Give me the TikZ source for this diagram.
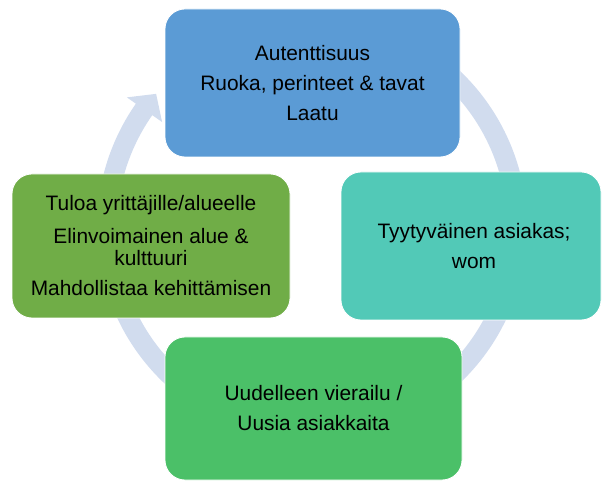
\documentclass[tikz,border=0pt]{standalone}
\usepackage{fontspec}
\setmainfont{Liberation Sans}
\usetikzlibrary{calc}

\definecolor{boxblue}{HTML}{5B9BD5}
\definecolor{boxteal}{HTML}{52C9B7}
\definecolor{boxolive}{HTML}{70AD47}
\definecolor{boxgreen}{HTML}{4BC068}
\definecolor{ringblue}{HTML}{D1DCEE}

\tikzset{
  stage/.style={draw=white, line width=0.8pt, rounded corners=20pt,
    align=center, inner sep=0pt, text=black,
    font=\fontsize{20.9}{30}\selectfont},
}

\begin{document}
\begin{tikzpicture}[x=1pt, y=1pt]
  \useasboundingbox (0,0) rectangle (602,482);

  % circular arrow running clockwise behind the stages
  \coordinate (C) at (312,255);
  \fill[ringblue]
    ($(C)+(70:215)$) arc[start angle=70, end angle=-215, radius=215]
    -- ($(C)+(-215:226)$) -- ($(C)+(-220.5:205)$) -- ($(C)+(-215:183)$)
    -- ($(C)+(-215:195)$) arc[start angle=-215, end angle=70, radius=195]
    -- cycle;

  % stages of the cycle
  \node[stage, fill=boxblue, minimum width=295pt, minimum height=148pt]
    (quality) at (312.5,399)
    {Autenttisuus\\Ruoka, perinteet \& tavat\\Laatu};

  \node[stage, fill=boxteal, minimum width=260pt, minimum height=148pt]
    (customer) at (471,236) {};
  \node[font=\fontsize{20.9}{30}\selectfont, align=center, inner sep=0pt]
    (customertext) at (474,236) {Tyytyväinen asiakas;\\wom};

  \node[stage, fill=boxgreen, minimum width=297pt, minimum height=143pt]
    (revisit) at (313.5,73.5)
    {Uudelleen vierailu /\\Uusia asiakkaita};

  \node[stage, fill=boxolive, minimum width=278pt, minimum height=144pt]
    (income) at (151,236)
    {Tuloa yrittäjille/alueelle\\[3pt]Elinvoimainen alue \&\\[-8pt]kulttuuri\\Mahdollistaa kehittämisen};
\end{tikzpicture}
\end{document}
